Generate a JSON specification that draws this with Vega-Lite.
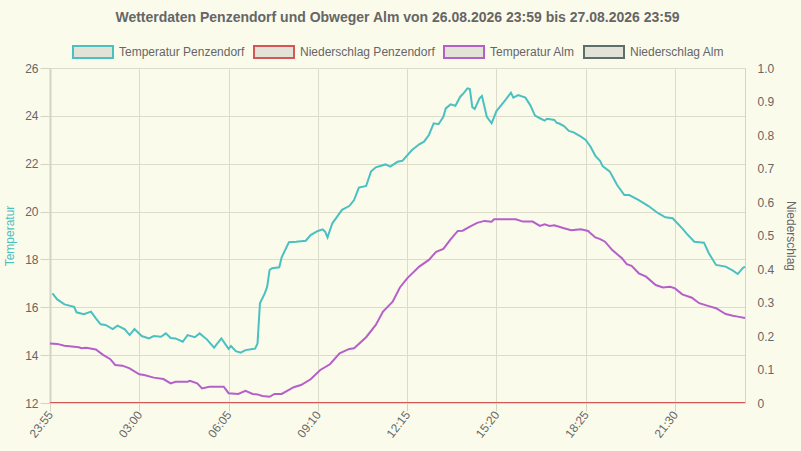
{
  "$schema": "https://vega.github.io/schema/vega-lite/v6.json",
  "width": 695,
  "height": 335,
  "autosize": "none",
  "padding": {"left": 50, "top": 68, "right": 56, "bottom": 48},
  "background": "#fbfbec",
  "view": {"stroke": null},
  "config": {
    "font": "Liberation Sans",
    "axis": {
      "labelColor": "#666666",
      "labelFontSize": 12,
      "labelFont": "Liberation Sans",
      "titleFont": "Liberation Sans",
      "titleFontWeight": "normal",
      "titleFontSize": 12,
      "gridColor": "#dcdccb",
      "domainColor": "#d4d4c2",
      "tickColor": "#d4d4c2"
    },
    "legend": {"labelFont": "Liberation Sans"}
  },
  "title": {
    "text": "Wetterdaten Penzendorf und Obweger Alm von 26.08.2026 23:59 bis 27.08.2026 23:59",
    "fontSize": 14,
    "fontWeight": "bold",
    "color": "#666666",
    "anchor": "middle",
    "offset": 6
  },
  "datasets": {
    "temp": [
      {"t": "2026-08-27T00:00", "s": "Temperatur Penzendorf", "v": 16.58},
      {"t": "2026-08-27T00:10", "s": "Temperatur Penzendorf", "v": 16.33},
      {"t": "2026-08-27T00:25", "s": "Temperatur Penzendorf", "v": 16.12},
      {"t": "2026-08-27T00:45", "s": "Temperatur Penzendorf", "v": 16.02},
      {"t": "2026-08-27T00:50", "s": "Temperatur Penzendorf", "v": 15.79},
      {"t": "2026-08-27T01:05", "s": "Temperatur Penzendorf", "v": 15.71},
      {"t": "2026-08-27T01:20", "s": "Temperatur Penzendorf", "v": 15.82},
      {"t": "2026-08-27T01:30", "s": "Temperatur Penzendorf", "v": 15.54},
      {"t": "2026-08-27T01:40", "s": "Temperatur Penzendorf", "v": 15.29},
      {"t": "2026-08-27T01:50", "s": "Temperatur Penzendorf", "v": 15.26},
      {"t": "2026-08-27T02:05", "s": "Temperatur Penzendorf", "v": 15.09},
      {"t": "2026-08-27T02:15", "s": "Temperatur Penzendorf", "v": 15.23},
      {"t": "2026-08-27T02:30", "s": "Temperatur Penzendorf", "v": 15.08},
      {"t": "2026-08-27T02:40", "s": "Temperatur Penzendorf", "v": 14.84},
      {"t": "2026-08-27T02:50", "s": "Temperatur Penzendorf", "v": 15.09},
      {"t": "2026-08-27T03:05", "s": "Temperatur Penzendorf", "v": 14.8},
      {"t": "2026-08-27T03:20", "s": "Temperatur Penzendorf", "v": 14.7},
      {"t": "2026-08-27T03:30", "s": "Temperatur Penzendorf", "v": 14.8},
      {"t": "2026-08-27T03:45", "s": "Temperatur Penzendorf", "v": 14.77},
      {"t": "2026-08-27T03:55", "s": "Temperatur Penzendorf", "v": 14.91},
      {"t": "2026-08-27T04:05", "s": "Temperatur Penzendorf", "v": 14.72},
      {"t": "2026-08-27T04:15", "s": "Temperatur Penzendorf", "v": 14.7},
      {"t": "2026-08-27T04:30", "s": "Temperatur Penzendorf", "v": 14.56},
      {"t": "2026-08-27T04:40", "s": "Temperatur Penzendorf", "v": 14.84},
      {"t": "2026-08-27T04:55", "s": "Temperatur Penzendorf", "v": 14.75},
      {"t": "2026-08-27T05:05", "s": "Temperatur Penzendorf", "v": 14.91},
      {"t": "2026-08-27T05:20", "s": "Temperatur Penzendorf", "v": 14.66},
      {"t": "2026-08-27T05:35", "s": "Temperatur Penzendorf", "v": 14.31},
      {"t": "2026-08-27T05:50", "s": "Temperatur Penzendorf", "v": 14.7},
      {"t": "2026-08-27T06:05", "s": "Temperatur Penzendorf", "v": 14.26},
      {"t": "2026-08-27T06:10", "s": "Temperatur Penzendorf", "v": 14.38},
      {"t": "2026-08-27T06:20", "s": "Temperatur Penzendorf", "v": 14.17},
      {"t": "2026-08-27T06:30", "s": "Temperatur Penzendorf", "v": 14.1},
      {"t": "2026-08-27T06:40", "s": "Temperatur Penzendorf", "v": 14.21},
      {"t": "2026-08-27T06:55", "s": "Temperatur Penzendorf", "v": 14.26},
      {"t": "2026-08-27T07:00", "s": "Temperatur Penzendorf", "v": 14.27},
      {"t": "2026-08-27T07:05", "s": "Temperatur Penzendorf", "v": 14.49},
      {"t": "2026-08-27T07:10", "s": "Temperatur Penzendorf", "v": 16.17},
      {"t": "2026-08-27T07:20", "s": "Temperatur Penzendorf", "v": 16.58},
      {"t": "2026-08-27T07:25", "s": "Temperatur Penzendorf", "v": 16.86},
      {"t": "2026-08-27T07:30", "s": "Temperatur Penzendorf", "v": 17.56},
      {"t": "2026-08-27T07:35", "s": "Temperatur Penzendorf", "v": 17.63},
      {"t": "2026-08-27T07:50", "s": "Temperatur Penzendorf", "v": 17.67},
      {"t": "2026-08-27T07:55", "s": "Temperatur Penzendorf", "v": 18.09},
      {"t": "2026-08-27T08:10", "s": "Temperatur Penzendorf", "v": 18.72},
      {"t": "2026-08-27T08:25", "s": "Temperatur Penzendorf", "v": 18.74},
      {"t": "2026-08-27T08:45", "s": "Temperatur Penzendorf", "v": 18.78},
      {"t": "2026-08-27T08:55", "s": "Temperatur Penzendorf", "v": 19.02},
      {"t": "2026-08-27T09:10", "s": "Temperatur Penzendorf", "v": 19.19},
      {"t": "2026-08-27T09:20", "s": "Temperatur Penzendorf", "v": 19.26},
      {"t": "2026-08-27T09:25", "s": "Temperatur Penzendorf", "v": 19.16},
      {"t": "2026-08-27T09:30", "s": "Temperatur Penzendorf", "v": 18.92},
      {"t": "2026-08-27T09:40", "s": "Temperatur Penzendorf", "v": 19.51},
      {"t": "2026-08-27T09:50", "s": "Temperatur Penzendorf", "v": 19.79},
      {"t": "2026-08-27T10:00", "s": "Temperatur Penzendorf", "v": 20.07},
      {"t": "2026-08-27T10:15", "s": "Temperatur Penzendorf", "v": 20.23},
      {"t": "2026-08-27T10:25", "s": "Temperatur Penzendorf", "v": 20.48},
      {"t": "2026-08-27T10:35", "s": "Temperatur Penzendorf", "v": 21.0},
      {"t": "2026-08-27T10:50", "s": "Temperatur Penzendorf", "v": 21.07},
      {"t": "2026-08-27T11:00", "s": "Temperatur Penzendorf", "v": 21.67},
      {"t": "2026-08-27T11:10", "s": "Temperatur Penzendorf", "v": 21.85},
      {"t": "2026-08-27T11:30", "s": "Temperatur Penzendorf", "v": 21.97},
      {"t": "2026-08-27T11:40", "s": "Temperatur Penzendorf", "v": 21.88},
      {"t": "2026-08-27T11:55", "s": "Temperatur Penzendorf", "v": 22.08},
      {"t": "2026-08-27T12:05", "s": "Temperatur Penzendorf", "v": 22.12},
      {"t": "2026-08-27T12:25", "s": "Temperatur Penzendorf", "v": 22.57},
      {"t": "2026-08-27T12:40", "s": "Temperatur Penzendorf", "v": 22.81},
      {"t": "2026-08-27T12:50", "s": "Temperatur Penzendorf", "v": 22.92},
      {"t": "2026-08-27T13:00", "s": "Temperatur Penzendorf", "v": 23.2},
      {"t": "2026-08-27T13:10", "s": "Temperatur Penzendorf", "v": 23.69},
      {"t": "2026-08-27T13:20", "s": "Temperatur Penzendorf", "v": 23.65},
      {"t": "2026-08-27T13:30", "s": "Temperatur Penzendorf", "v": 23.96},
      {"t": "2026-08-27T13:35", "s": "Temperatur Penzendorf", "v": 24.31},
      {"t": "2026-08-27T13:45", "s": "Temperatur Penzendorf", "v": 24.48},
      {"t": "2026-08-27T13:55", "s": "Temperatur Penzendorf", "v": 24.42},
      {"t": "2026-08-27T14:05", "s": "Temperatur Penzendorf", "v": 24.8},
      {"t": "2026-08-27T14:10", "s": "Temperatur Penzendorf", "v": 24.9},
      {"t": "2026-08-27T14:20", "s": "Temperatur Penzendorf", "v": 25.15},
      {"t": "2026-08-27T14:25", "s": "Temperatur Penzendorf", "v": 25.12},
      {"t": "2026-08-27T14:30", "s": "Temperatur Penzendorf", "v": 24.36},
      {"t": "2026-08-27T14:35", "s": "Temperatur Penzendorf", "v": 24.29},
      {"t": "2026-08-27T14:45", "s": "Temperatur Penzendorf", "v": 24.73},
      {"t": "2026-08-27T14:50", "s": "Temperatur Penzendorf", "v": 24.83},
      {"t": "2026-08-27T15:00", "s": "Temperatur Penzendorf", "v": 23.96},
      {"t": "2026-08-27T15:10", "s": "Temperatur Penzendorf", "v": 23.69},
      {"t": "2026-08-27T15:20", "s": "Temperatur Penzendorf", "v": 24.2},
      {"t": "2026-08-27T15:30", "s": "Temperatur Penzendorf", "v": 24.45},
      {"t": "2026-08-27T15:40", "s": "Temperatur Penzendorf", "v": 24.7},
      {"t": "2026-08-27T15:50", "s": "Temperatur Penzendorf", "v": 24.97},
      {"t": "2026-08-27T15:55", "s": "Temperatur Penzendorf", "v": 24.76},
      {"t": "2026-08-27T16:05", "s": "Temperatur Penzendorf", "v": 24.87},
      {"t": "2026-08-27T16:20", "s": "Temperatur Penzendorf", "v": 24.76},
      {"t": "2026-08-27T16:30", "s": "Temperatur Penzendorf", "v": 24.45},
      {"t": "2026-08-27T16:40", "s": "Temperatur Penzendorf", "v": 24.01},
      {"t": "2026-08-27T16:50", "s": "Temperatur Penzendorf", "v": 23.9},
      {"t": "2026-08-27T17:00", "s": "Temperatur Penzendorf", "v": 23.8},
      {"t": "2026-08-27T17:05", "s": "Temperatur Penzendorf", "v": 23.88},
      {"t": "2026-08-27T17:20", "s": "Temperatur Penzendorf", "v": 23.83},
      {"t": "2026-08-27T17:25", "s": "Temperatur Penzendorf", "v": 23.71},
      {"t": "2026-08-27T17:30", "s": "Temperatur Penzendorf", "v": 23.68},
      {"t": "2026-08-27T17:40", "s": "Temperatur Penzendorf", "v": 23.57},
      {"t": "2026-08-27T17:50", "s": "Temperatur Penzendorf", "v": 23.37},
      {"t": "2026-08-27T18:00", "s": "Temperatur Penzendorf", "v": 23.31},
      {"t": "2026-08-27T18:15", "s": "Temperatur Penzendorf", "v": 23.13},
      {"t": "2026-08-27T18:25", "s": "Temperatur Penzendorf", "v": 22.99},
      {"t": "2026-08-27T18:35", "s": "Temperatur Penzendorf", "v": 22.71},
      {"t": "2026-08-27T18:45", "s": "Temperatur Penzendorf", "v": 22.33},
      {"t": "2026-08-27T18:55", "s": "Temperatur Penzendorf", "v": 22.11},
      {"t": "2026-08-27T19:00", "s": "Temperatur Penzendorf", "v": 21.9},
      {"t": "2026-08-27T19:15", "s": "Temperatur Penzendorf", "v": 21.67},
      {"t": "2026-08-27T19:30", "s": "Temperatur Penzendorf", "v": 21.11},
      {"t": "2026-08-27T19:45", "s": "Temperatur Penzendorf", "v": 20.69},
      {"t": "2026-08-27T19:55", "s": "Temperatur Penzendorf", "v": 20.69},
      {"t": "2026-08-27T20:15", "s": "Temperatur Penzendorf", "v": 20.48},
      {"t": "2026-08-27T20:35", "s": "Temperatur Penzendorf", "v": 20.23},
      {"t": "2026-08-27T20:55", "s": "Temperatur Penzendorf", "v": 19.93},
      {"t": "2026-08-27T21:10", "s": "Temperatur Penzendorf", "v": 19.76},
      {"t": "2026-08-27T21:25", "s": "Temperatur Penzendorf", "v": 19.72},
      {"t": "2026-08-27T21:45", "s": "Temperatur Penzendorf", "v": 19.3},
      {"t": "2026-08-27T21:55", "s": "Temperatur Penzendorf", "v": 19.06},
      {"t": "2026-08-27T22:10", "s": "Temperatur Penzendorf", "v": 18.74},
      {"t": "2026-08-27T22:30", "s": "Temperatur Penzendorf", "v": 18.7},
      {"t": "2026-08-27T22:40", "s": "Temperatur Penzendorf", "v": 18.26},
      {"t": "2026-08-27T22:55", "s": "Temperatur Penzendorf", "v": 17.77},
      {"t": "2026-08-27T23:15", "s": "Temperatur Penzendorf", "v": 17.7},
      {"t": "2026-08-27T23:30", "s": "Temperatur Penzendorf", "v": 17.53},
      {"t": "2026-08-27T23:40", "s": "Temperatur Penzendorf", "v": 17.39},
      {"t": "2026-08-27T23:50", "s": "Temperatur Penzendorf", "v": 17.63},
      {"t": "2026-08-27T23:55", "s": "Temperatur Penzendorf", "v": 17.7},
      {"t": "2026-08-26T23:55", "s": "Temperatur Alm", "v": 14.49},
      {"t": "2026-08-27T00:10", "s": "Temperatur Alm", "v": 14.47},
      {"t": "2026-08-27T00:25", "s": "Temperatur Alm", "v": 14.39},
      {"t": "2026-08-27T00:55", "s": "Temperatur Alm", "v": 14.33},
      {"t": "2026-08-27T01:00", "s": "Temperatur Alm", "v": 14.29},
      {"t": "2026-08-27T01:10", "s": "Temperatur Alm", "v": 14.31},
      {"t": "2026-08-27T01:30", "s": "Temperatur Alm", "v": 14.24},
      {"t": "2026-08-27T01:45", "s": "Temperatur Alm", "v": 14.01},
      {"t": "2026-08-27T02:00", "s": "Temperatur Alm", "v": 13.83},
      {"t": "2026-08-27T02:10", "s": "Temperatur Alm", "v": 13.59},
      {"t": "2026-08-27T02:25", "s": "Temperatur Alm", "v": 13.56},
      {"t": "2026-08-27T02:40", "s": "Temperatur Alm", "v": 13.45},
      {"t": "2026-08-27T03:00", "s": "Temperatur Alm", "v": 13.2},
      {"t": "2026-08-27T03:10", "s": "Temperatur Alm", "v": 13.17},
      {"t": "2026-08-27T03:30", "s": "Temperatur Alm", "v": 13.06},
      {"t": "2026-08-27T03:50", "s": "Temperatur Alm", "v": 13.0},
      {"t": "2026-08-27T04:05", "s": "Temperatur Alm", "v": 12.82},
      {"t": "2026-08-27T04:15", "s": "Temperatur Alm", "v": 12.89},
      {"t": "2026-08-27T04:40", "s": "Temperatur Alm", "v": 12.89},
      {"t": "2026-08-27T04:45", "s": "Temperatur Alm", "v": 12.93},
      {"t": "2026-08-27T05:00", "s": "Temperatur Alm", "v": 12.82},
      {"t": "2026-08-27T05:10", "s": "Temperatur Alm", "v": 12.61},
      {"t": "2026-08-27T05:25", "s": "Temperatur Alm", "v": 12.68},
      {"t": "2026-08-27T05:55", "s": "Temperatur Alm", "v": 12.68},
      {"t": "2026-08-27T06:05", "s": "Temperatur Alm", "v": 12.41},
      {"t": "2026-08-27T06:25", "s": "Temperatur Alm", "v": 12.38},
      {"t": "2026-08-27T06:40", "s": "Temperatur Alm", "v": 12.51},
      {"t": "2026-08-27T06:55", "s": "Temperatur Alm", "v": 12.38},
      {"t": "2026-08-27T07:05", "s": "Temperatur Alm", "v": 12.36},
      {"t": "2026-08-27T07:15", "s": "Temperatur Alm", "v": 12.29},
      {"t": "2026-08-27T07:30", "s": "Temperatur Alm", "v": 12.26},
      {"t": "2026-08-27T07:40", "s": "Temperatur Alm", "v": 12.38},
      {"t": "2026-08-27T07:55", "s": "Temperatur Alm", "v": 12.38},
      {"t": "2026-08-27T08:20", "s": "Temperatur Alm", "v": 12.66},
      {"t": "2026-08-27T08:35", "s": "Temperatur Alm", "v": 12.75},
      {"t": "2026-08-27T08:55", "s": "Temperatur Alm", "v": 12.99},
      {"t": "2026-08-27T09:15", "s": "Temperatur Alm", "v": 13.38},
      {"t": "2026-08-27T09:35", "s": "Temperatur Alm", "v": 13.62},
      {"t": "2026-08-27T09:55", "s": "Temperatur Alm", "v": 14.08},
      {"t": "2026-08-27T10:15", "s": "Temperatur Alm", "v": 14.26},
      {"t": "2026-08-27T10:25", "s": "Temperatur Alm", "v": 14.29},
      {"t": "2026-08-27T10:50", "s": "Temperatur Alm", "v": 14.75},
      {"t": "2026-08-27T11:10", "s": "Temperatur Alm", "v": 15.26},
      {"t": "2026-08-27T11:25", "s": "Temperatur Alm", "v": 15.82},
      {"t": "2026-08-27T11:45", "s": "Temperatur Alm", "v": 16.23},
      {"t": "2026-08-27T12:00", "s": "Temperatur Alm", "v": 16.83},
      {"t": "2026-08-27T12:15", "s": "Temperatur Alm", "v": 17.21},
      {"t": "2026-08-27T12:40", "s": "Temperatur Alm", "v": 17.7},
      {"t": "2026-08-27T13:00", "s": "Temperatur Alm", "v": 17.98},
      {"t": "2026-08-27T13:15", "s": "Temperatur Alm", "v": 18.32},
      {"t": "2026-08-27T13:30", "s": "Temperatur Alm", "v": 18.44},
      {"t": "2026-08-27T13:45", "s": "Temperatur Alm", "v": 18.84},
      {"t": "2026-08-27T14:00", "s": "Temperatur Alm", "v": 19.19},
      {"t": "2026-08-27T14:10", "s": "Temperatur Alm", "v": 19.2},
      {"t": "2026-08-27T14:25", "s": "Temperatur Alm", "v": 19.37},
      {"t": "2026-08-27T14:40", "s": "Temperatur Alm", "v": 19.53},
      {"t": "2026-08-27T14:55", "s": "Temperatur Alm", "v": 19.61},
      {"t": "2026-08-27T15:10", "s": "Temperatur Alm", "v": 19.58},
      {"t": "2026-08-27T15:15", "s": "Temperatur Alm", "v": 19.68},
      {"t": "2026-08-27T16:00", "s": "Temperatur Alm", "v": 19.68},
      {"t": "2026-08-27T16:15", "s": "Temperatur Alm", "v": 19.58},
      {"t": "2026-08-27T16:35", "s": "Temperatur Alm", "v": 19.58},
      {"t": "2026-08-27T16:50", "s": "Temperatur Alm", "v": 19.4},
      {"t": "2026-08-27T17:00", "s": "Temperatur Alm", "v": 19.47},
      {"t": "2026-08-27T17:10", "s": "Temperatur Alm", "v": 19.4},
      {"t": "2026-08-27T17:20", "s": "Temperatur Alm", "v": 19.43},
      {"t": "2026-08-27T17:40", "s": "Temperatur Alm", "v": 19.3},
      {"t": "2026-08-27T17:55", "s": "Temperatur Alm", "v": 19.22},
      {"t": "2026-08-27T18:15", "s": "Temperatur Alm", "v": 19.26},
      {"t": "2026-08-27T18:30", "s": "Temperatur Alm", "v": 19.19},
      {"t": "2026-08-27T18:35", "s": "Temperatur Alm", "v": 19.09},
      {"t": "2026-08-27T18:45", "s": "Temperatur Alm", "v": 18.92},
      {"t": "2026-08-27T18:55", "s": "Temperatur Alm", "v": 18.85},
      {"t": "2026-08-27T19:05", "s": "Temperatur Alm", "v": 18.74},
      {"t": "2026-08-27T19:20", "s": "Temperatur Alm", "v": 18.39},
      {"t": "2026-08-27T19:40", "s": "Temperatur Alm", "v": 18.05},
      {"t": "2026-08-27T19:50", "s": "Temperatur Alm", "v": 17.8},
      {"t": "2026-08-27T20:00", "s": "Temperatur Alm", "v": 17.73},
      {"t": "2026-08-27T20:15", "s": "Temperatur Alm", "v": 17.42},
      {"t": "2026-08-27T20:30", "s": "Temperatur Alm", "v": 17.28},
      {"t": "2026-08-27T20:50", "s": "Temperatur Alm", "v": 16.93},
      {"t": "2026-08-27T21:05", "s": "Temperatur Alm", "v": 16.83},
      {"t": "2026-08-27T21:20", "s": "Temperatur Alm", "v": 16.86},
      {"t": "2026-08-27T21:30", "s": "Temperatur Alm", "v": 16.79},
      {"t": "2026-08-27T21:45", "s": "Temperatur Alm", "v": 16.54},
      {"t": "2026-08-27T22:05", "s": "Temperatur Alm", "v": 16.4},
      {"t": "2026-08-27T22:20", "s": "Temperatur Alm", "v": 16.17},
      {"t": "2026-08-27T22:40", "s": "Temperatur Alm", "v": 16.05},
      {"t": "2026-08-27T22:55", "s": "Temperatur Alm", "v": 15.96},
      {"t": "2026-08-27T23:15", "s": "Temperatur Alm", "v": 15.72},
      {"t": "2026-08-27T23:30", "s": "Temperatur Alm", "v": 15.65},
      {"t": "2026-08-27T23:40", "s": "Temperatur Alm", "v": 15.61},
      {"t": "2026-08-27T23:55", "s": "Temperatur Alm", "v": 15.55}
    ],
    "rain": [
      {"t": "2026-08-26T23:55", "s": "Niederschlag Alm", "v": 0},
      {"t": "2026-08-27T06:00", "s": "Niederschlag Alm", "v": 0},
      {"t": "2026-08-27T12:00", "s": "Niederschlag Alm", "v": 0},
      {"t": "2026-08-27T18:00", "s": "Niederschlag Alm", "v": 0},
      {"t": "2026-08-27T23:55", "s": "Niederschlag Alm", "v": 0},
      {"t": "2026-08-26T23:55", "s": "Niederschlag Penzendorf", "v": 0},
      {"t": "2026-08-27T06:00", "s": "Niederschlag Penzendorf", "v": 0},
      {"t": "2026-08-27T12:00", "s": "Niederschlag Penzendorf", "v": 0},
      {"t": "2026-08-27T18:00", "s": "Niederschlag Penzendorf", "v": 0},
      {"t": "2026-08-27T23:55", "s": "Niederschlag Penzendorf", "v": 0}
    ]
  },
  "encoding": {
    "x": {
      "field": "t",
      "type": "temporal",
      "title": null,
      "scale": {
        "domain": [
          {"year": 2026, "month": 8, "date": 26, "hours": 23, "minutes": 55},
          {"year": 2026, "month": 8, "date": 27, "hours": 23, "minutes": 55}
        ]
      },
      "axis": {
        "values": [
          {"year": 2026, "month": 8, "date": 26, "hours": 23, "minutes": 55},
          {"year": 2026, "month": 8, "date": 27, "hours": 3, "minutes": 0},
          {"year": 2026, "month": 8, "date": 27, "hours": 6, "minutes": 5},
          {"year": 2026, "month": 8, "date": 27, "hours": 9, "minutes": 10},
          {"year": 2026, "month": 8, "date": 27, "hours": 12, "minutes": 15},
          {"year": 2026, "month": 8, "date": 27, "hours": 15, "minutes": 20},
          {"year": 2026, "month": 8, "date": 27, "hours": 18, "minutes": 25},
          {"year": 2026, "month": 8, "date": 27, "hours": 21, "minutes": 30}
        ],
        "format": "%H:%M",
        "labelAngle": -52,
        "labelAlign": "right",
        "labelBaseline": "middle",
        "labelPadding": 1,
        "tickSize": 8,
        "grid": true,
        "domain": false
      }
    }
  },
  "layer": [
    {
      "data": {"name": "temp"},
      "mark": {"type": "line", "strokeWidth": 2, "interpolate": "linear"},
      "encoding": {
        "y": {
          "field": "v",
          "type": "quantitative",
          "title": "Temperatur",
          "scale": {"domain": [12, 26], "nice": false, "zero": false},
          "axis": {
            "orient": "left",
            "values": [12, 14, 16, 18, 20, 22, 24, 26],
            "titleColor": "#4bc0c0",
            "titlePadding": 8,
            "tickSize": 10,
            "labelPadding": 2,
            "domainWidth": 2,
            "grid": true
          }
        },
        "color": {
          "field": "s",
          "type": "nominal",
          "scale": {
            "domain": ["Temperatur Penzendorf", "Niederschlag Penzendorf", "Temperatur Alm", "Niederschlag Alm"],
            "range": ["#4bc0c0", "#d65656", "#b560c9", "#5c6f6d"]
          },
          "legend": {
            "title": null,
            "orient": "none",
            "direction": "horizontal",
            "legendX": 22,
            "legendY": -37,
            "symbolType": "M-1,-0.3L1,-0.3L1,0.3L-1,0.3Z",
            "symbolSize": 1600,
            "symbolStrokeWidth": 2,
            "symbolFillColor": "#e2e2d6",
            "labelFontSize": 12,
            "labelColor": "#666666",
            "labelOffset": 5,
            "columnPadding": 5
          }
        }
      }
    },
    {
      "data": {"name": "rain"},
      "mark": {"type": "line", "strokeWidth": 2, "clip": true},
      "encoding": {
        "y": {
          "field": "v",
          "type": "quantitative",
          "title": "Niederschlag",
          "scale": {"domain": [0, 1], "nice": false},
          "axis": {
            "orient": "right",
            "values": [0, 0.1, 0.2, 0.3, 0.4, 0.5, 0.6, 0.7, 0.8, 0.9, 1],
            "labelExpr": "datum.value == 0 ? '0' : format(datum.value, '.1f')",
            "titleColor": "#666666",
            "titleAngle": 90,
            "titlePadding": 10,
            "ticks": false,
            "labelPadding": 12,
            "grid": false
          }
        },
        "color": {"field": "s", "type": "nominal"}
      }
    }
  ],
  "resolve": {"scale": {"y": "independent"}, "axis": {"y": "independent"}}
}
